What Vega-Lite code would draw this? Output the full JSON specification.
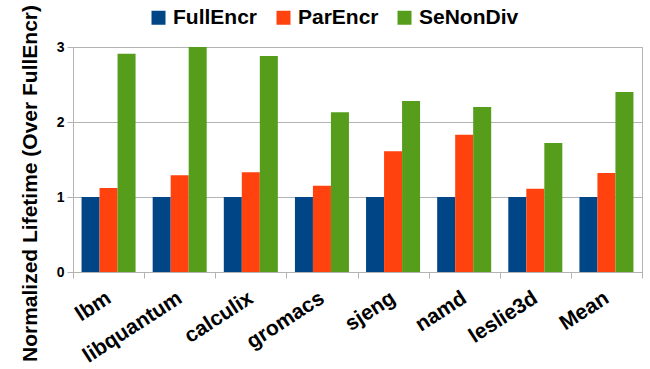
{
  "$schema": "https://vega.github.io/schema/vega-lite/v6.json",
  "width": 569,
  "height": 225,
  "autosize": {"type": "none"},
  "padding": {"left": 73, "top": 47, "right": 8, "bottom": 97},
  "background": "white",
  "config": {
    "font": "Liberation Sans",
    "view": {"stroke": "#b3b3b3", "strokeWidth": 1}
  },
  "data": {
    "values": [
      {"benchmark": "lbm", "scheme": "FullEncr", "lifetime": 1},
      {"benchmark": "lbm", "scheme": "ParEncr", "lifetime": 1.12},
      {"benchmark": "lbm", "scheme": "SeNonDiv", "lifetime": 2.91},
      {"benchmark": "libquantum", "scheme": "FullEncr", "lifetime": 1},
      {"benchmark": "libquantum", "scheme": "ParEncr", "lifetime": 1.29},
      {"benchmark": "libquantum", "scheme": "SeNonDiv", "lifetime": 3.0},
      {"benchmark": "calculix", "scheme": "FullEncr", "lifetime": 1},
      {"benchmark": "calculix", "scheme": "ParEncr", "lifetime": 1.33},
      {"benchmark": "calculix", "scheme": "SeNonDiv", "lifetime": 2.88},
      {"benchmark": "gromacs", "scheme": "FullEncr", "lifetime": 1},
      {"benchmark": "gromacs", "scheme": "ParEncr", "lifetime": 1.15},
      {"benchmark": "gromacs", "scheme": "SeNonDiv", "lifetime": 2.13},
      {"benchmark": "sjeng", "scheme": "FullEncr", "lifetime": 1},
      {"benchmark": "sjeng", "scheme": "ParEncr", "lifetime": 1.61},
      {"benchmark": "sjeng", "scheme": "SeNonDiv", "lifetime": 2.28},
      {"benchmark": "namd", "scheme": "FullEncr", "lifetime": 1},
      {"benchmark": "namd", "scheme": "ParEncr", "lifetime": 1.83},
      {"benchmark": "namd", "scheme": "SeNonDiv", "lifetime": 2.2},
      {"benchmark": "leslie3d", "scheme": "FullEncr", "lifetime": 1},
      {"benchmark": "leslie3d", "scheme": "ParEncr", "lifetime": 1.11},
      {"benchmark": "leslie3d", "scheme": "SeNonDiv", "lifetime": 1.72},
      {"benchmark": "Mean", "scheme": "FullEncr", "lifetime": 1},
      {"benchmark": "Mean", "scheme": "ParEncr", "lifetime": 1.32},
      {"benchmark": "Mean", "scheme": "SeNonDiv", "lifetime": 2.4}
    ]
  },
  "mark": {"type": "bar"},
  "encoding": {
    "x": {
      "field": "benchmark",
      "type": "nominal",
      "sort": ["lbm", "libquantum", "calculix", "gromacs", "sjeng", "namd", "leslie3d", "Mean"],
      "scale": {"paddingInner": 0, "paddingOuter": 0},
      "axis": {
        "title": null,
        "labelAngle": -33,
        "labelAlign": "right",
        "labelBaseline": "middle",
        "labelFont": "Liberation Sans",
        "labelFontSize": 21,
        "labelFontWeight": "bold",
        "labelColor": "black",
        "labelPadding": 18,
        "tickBand": "extent",
        "tickSize": 6,
        "tickColor": "#b3b3b3",
        "domainColor": "#b3b3b3",
        "grid": false
      }
    },
    "xOffset": {
      "field": "scheme",
      "type": "nominal",
      "sort": ["FullEncr", "ParEncr", "SeNonDiv"],
      "scale": {"paddingInner": 0, "paddingOuter": 0.475}
    },
    "y": {
      "field": "lifetime",
      "type": "quantitative",
      "scale": {"domain": [0, 3], "nice": false},
      "axis": {
        "title": "Normalized Lifetime (Over FullEncr)",
        "titleFont": "Liberation Sans",
        "titleFontSize": 21,
        "titleFontWeight": "bold",
        "titleColor": "black",
        "titlePadding": 16,
        "titleY": 136,
        "values": [0, 1, 2, 3],
        "format": "d",
        "labelFont": "Liberation Sans",
        "labelFontSize": 14,
        "labelFontWeight": "bold",
        "labelColor": "black",
        "labelPadding": 3,
        "tickSize": 6,
        "tickColor": "#b3b3b3",
        "domainColor": "#b3b3b3",
        "grid": true,
        "gridColor": "#b3b3b3"
      }
    },
    "color": {
      "field": "scheme",
      "type": "nominal",
      "scale": {
        "domain": ["FullEncr", "ParEncr", "SeNonDiv"],
        "range": ["#004586", "#ff420e", "#579d1c"]
      },
      "legend": {
        "title": null,
        "orient": "none",
        "direction": "horizontal",
        "legendX": 75,
        "legendY": -40,
        "symbolType": "square",
        "symbolSize": 196,
        "symbolStrokeWidth": 0,
        "symbolOpacity": 1,
        "labelFont": "Liberation Sans",
        "labelFontSize": 21,
        "labelFontWeight": "bold",
        "labelColor": "black",
        "labelOffset": 4,
        "columnPadding": 15
      }
    }
  }
}
